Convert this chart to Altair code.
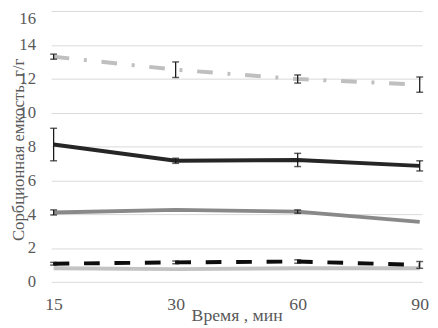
import altair as alt
import pandas as pd

times = [15, 30, 60, 90]

# Series values and error half-widths
s_a = [13.3, 12.53, 11.98, 11.65]
e_a = [0.15, 0.46, 0.24, 0.45]
s_b = [8.11, 7.15, 7.2, 6.85]
e_b = [0.96, 0.15, 0.39, 0.3]
s_c = [4.1, 4.25, 4.15, 3.54]
e_c = [0.15, 0.0, 0.1, 0.0]
s_d = [1.07, 1.15, 1.2, 1.0]
e_d = [0.08, 0.08, 0.1, 0.2]
s_e = [0.8, 0.75, 0.8, 0.8]
e_e = [0.0, 0.0, 0.0, 0.0]

series = [
    ("A", s_a, e_a, "#bfbfbf", [16, 15, 3, 15]),
    ("B", s_b, e_b, "#262626", None),
    ("C", s_c, e_c, "#898989", None),
    ("E", s_e, e_e, "#c3c3c3", None),
    ("D", s_d, e_d, "#0d0d0d", [16, 15]),
]

y_ticks = [0, 2, 4, 6, 8, 10, 12, 14, 16]
FONT = "Liberation Serif"
TXT = "#595959"

x_enc = alt.X(
    "t:O",
    scale=alt.Scale(type="point", padding=0.02),
    axis=alt.Axis(
        title="Время , мин",
        labelAngle=0,
        labelFont=FONT,
        labelFontSize=18,
        labelColor=TXT,
        labelPadding=14,
        ticks=False,
        domain=False,
        grid=False,
        titleFont=FONT,
        titleFontSize=18,
        titleFontWeight="normal",
        titleColor=TXT,
        titleY=39,
        titleBaseline="alphabetic",
    ),
)

y_scale = alt.Scale(domain=[0, 16], nice=False, zero=True)
y_axis = alt.Axis(
    title="Сорбционная емкость, г/г",
    values=y_ticks,
    labelFont=FONT,
    labelFontSize=17,
    labelColor=TXT,
    labelPadding=16,
    labelBaseline={"condition": {"test": "datum.value == 16", "value": "top"}, "value": "middle"},
    ticks=False,
    domain=False,
    grid=True,
    gridColor="#d9d9d9",
    gridWidth=1,
    titleFont=FONT,
    titleFontSize=17,
    titleFontWeight="normal",
    titleColor=TXT,
    titleAngle=-90,
    titleX=-28,
    titleY=141,
    titleAlign="center",
    titleBaseline="alphabetic",
)


def yenc(field):
    return alt.Y(field, scale=y_scale, axis=y_axis)


layers = []
for name, vals, errs, color, dash in series:
    df = pd.DataFrame({
        "t": times,
        "v": vals,
        "lo": [v - e for v, e in zip(vals, errs)],
        "hi": [v + e for v, e in zip(vals, errs)],
        "e": errs,
    })
    base = alt.Chart(df)
    kw = dict(color=color, strokeWidth=4)
    if dash:
        kw["strokeDash"] = dash
    line = base.mark_line(**kw).encode(x=x_enc, y=yenc("v:Q"))
    layers.append(line)
    eb = base.transform_filter("datum.e > 0")
    rule = eb.mark_rule(color="#1a1a1a", strokeWidth=1.3).encode(
        x=x_enc, y=yenc("lo:Q"), y2="hi:Q"
    )
    tlo = eb.mark_tick(color="#1a1a1a", orient="horizontal", size=7, thickness=1.5).encode(
        x=x_enc, y=yenc("lo:Q")
    )
    thi = eb.mark_tick(color="#1a1a1a", orient="horizontal", size=7, thickness=1.5).encode(
        x=x_enc, y=yenc("hi:Q")
    )
    layers += [rule, tlo, thi]

chart = alt.layer(*layers).properties(
    width=378,
    height=276,
    padding={"left": 44, "top": 0, "right": 8, "bottom": 44},
    autosize=alt.AutoSizeParams(type="none"),
    background="white",
).configure_view(stroke=None)

chart.save("out.html", embed_options={"renderer": "svg", "actions": False})
